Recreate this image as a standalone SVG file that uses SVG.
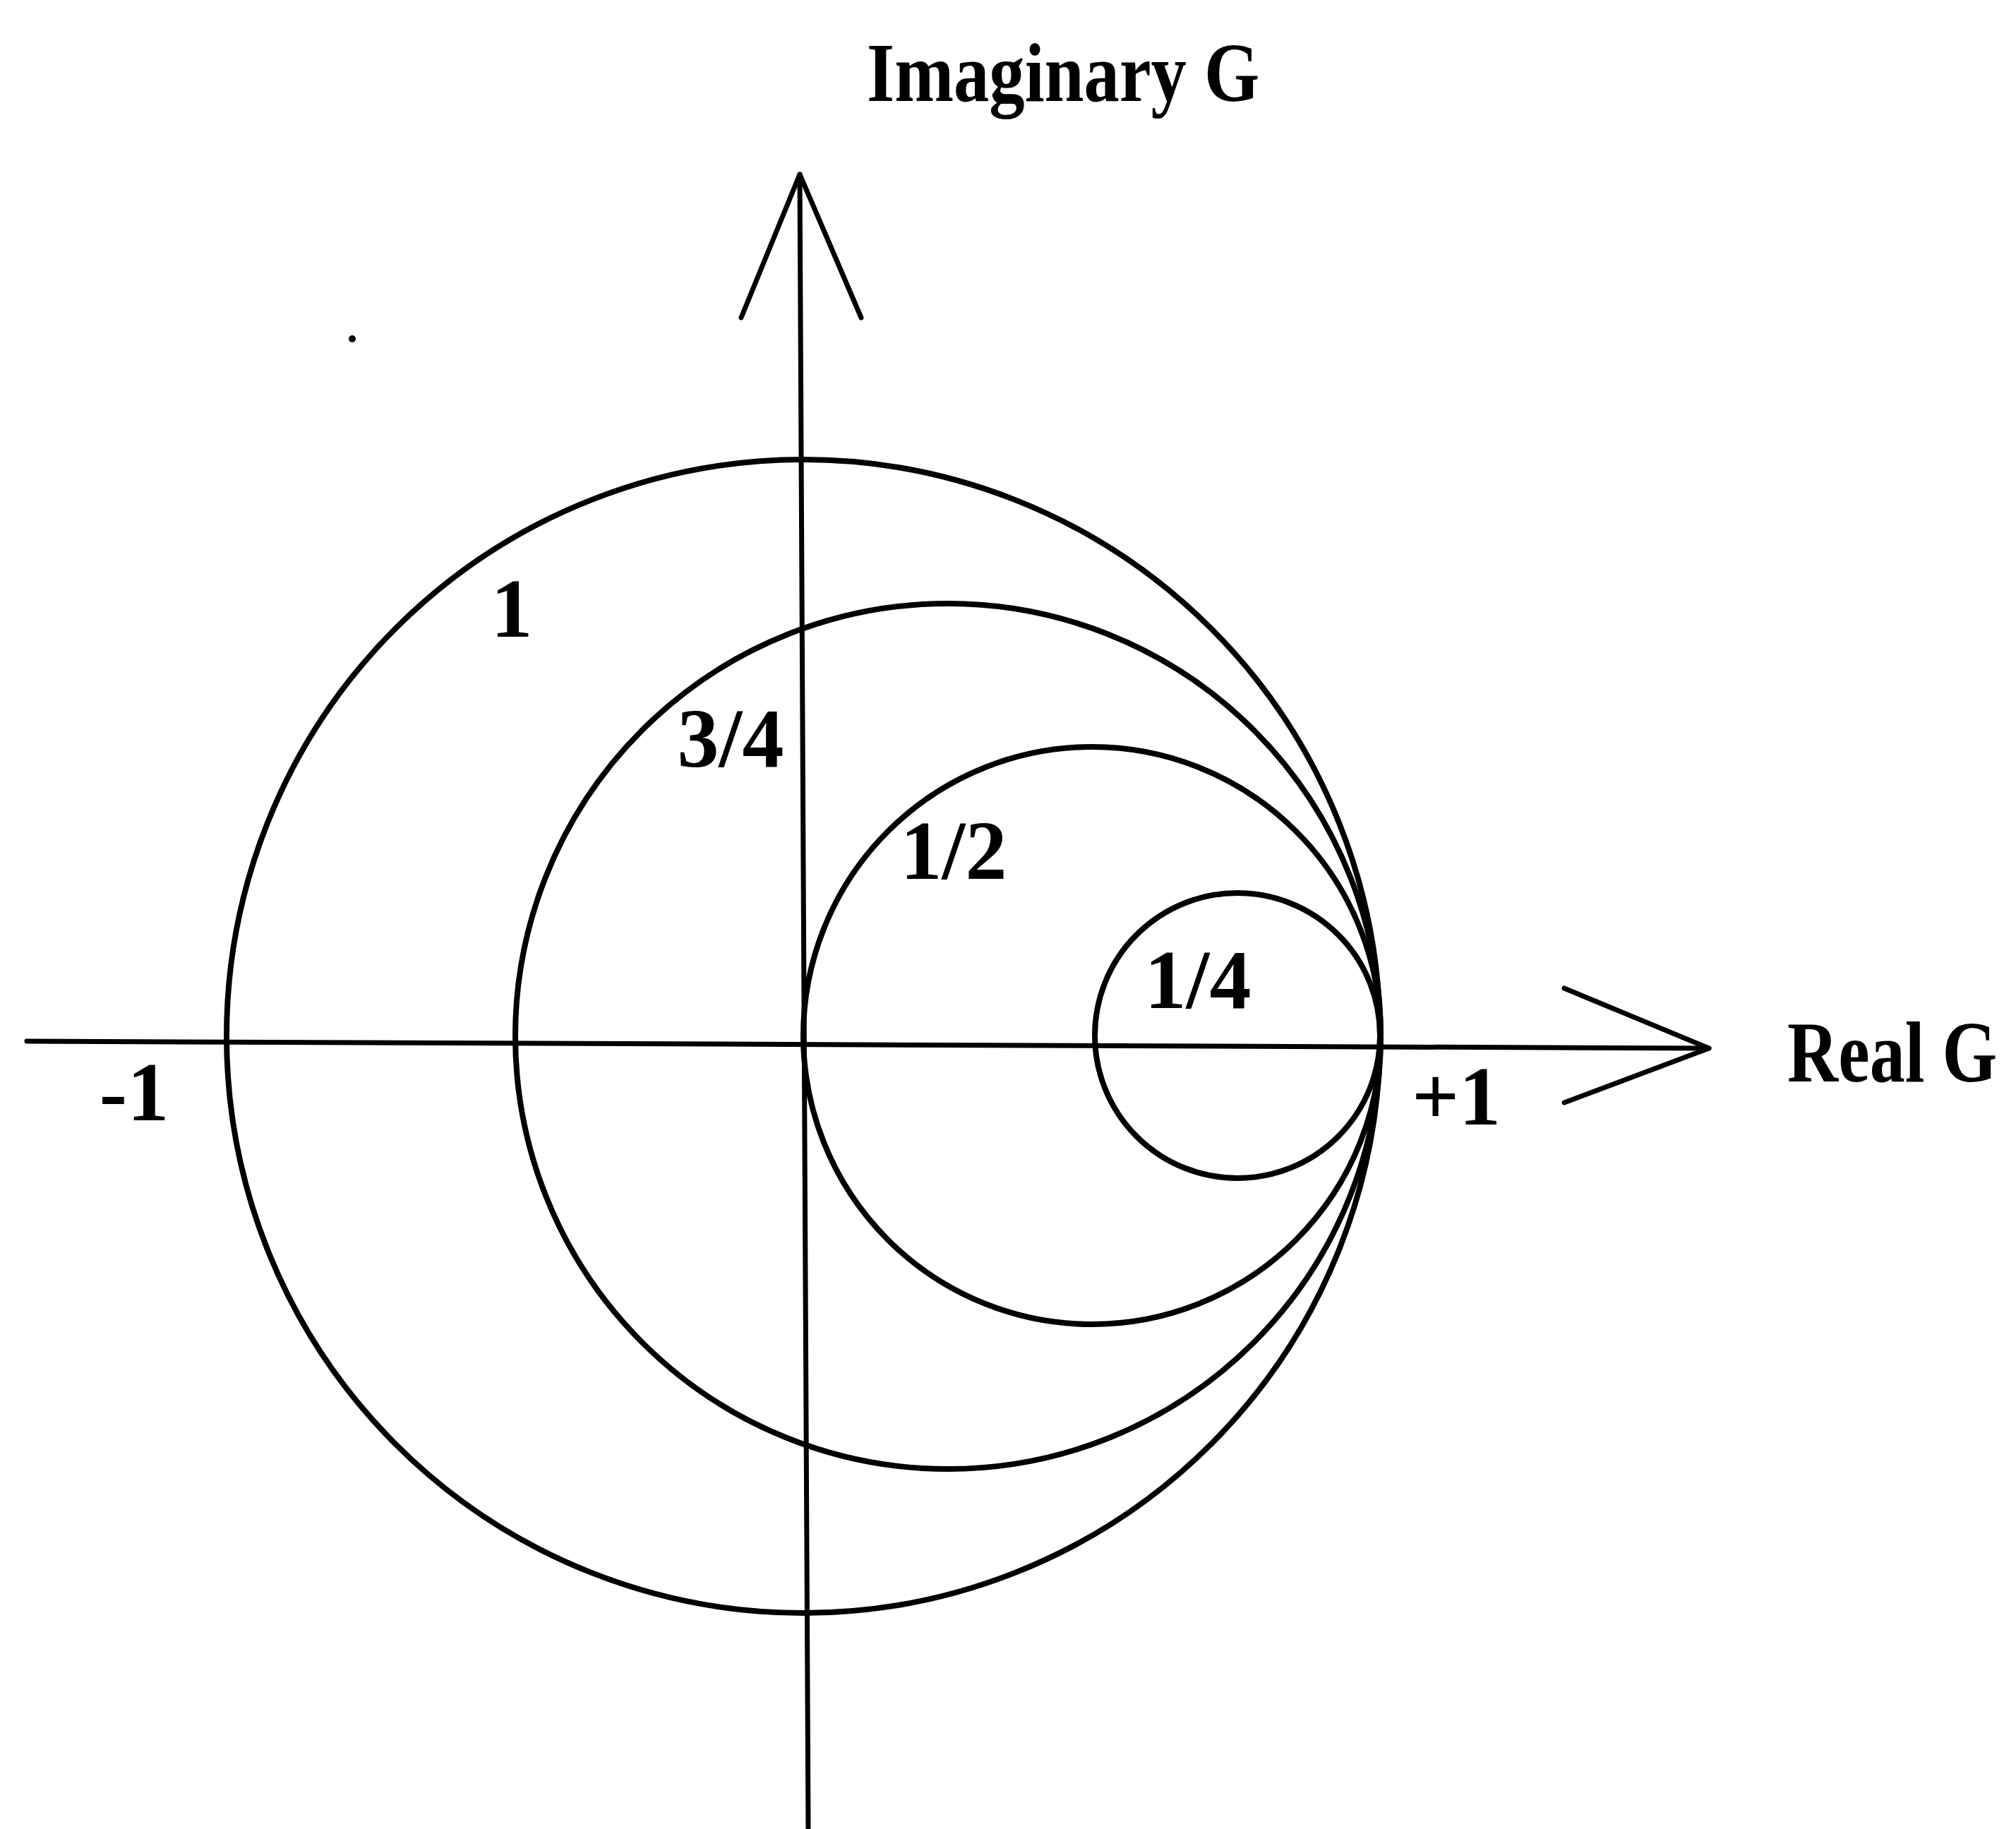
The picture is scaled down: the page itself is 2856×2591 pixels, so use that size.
<svg xmlns="http://www.w3.org/2000/svg" width="2856" height="2591" viewBox="0 0 2856 2591">
<style>
.ax{fill:none;stroke:#000;stroke-width:7;stroke-linecap:round;stroke-linejoin:round}
.c{fill:none;stroke:#000;stroke-width:8}
.t{font-family:"Liberation Serif","Times New Roman",serif;font-size:118px;font-weight:bold;fill:#000}
</style>
<rect width="2856" height="2591" fill="#fff"/>
<g id="axes">
<line class="ax" x1="38" y1="1475" x2="2421" y2="1485"/>
<polyline class="ax" points="2216,1400 2421,1485 2216,1562"/>
<line class="ax" x1="1133" y1="247" x2="1145" y2="2591"/>
<polyline class="ax" points="1050,450 1133,247 1220,450"/>
</g>
<g id="circle-1"><circle class="c" cx="1138" cy="1468" r="817"/></g>
<g id="circle-3-4"><circle class="c" cx="1343" cy="1468" r="613"/></g>
<g id="circle-1-2"><circle class="c" cx="1547" cy="1467" r="409"/></g>
<g id="circle-1-4"><circle class="c" cx="1753" cy="1467" r="202"/></g>
<g id="labels">
<text class="t" transform="translate(1228,143) scale(0.853,1)">Imaginary G</text>
<text class="t" transform="translate(2532,1532) scale(0.82,1)" style="font-size:122px">Real G</text>
<text class="t" x="190" y="1587" text-anchor="middle">-1</text>
<text class="t" x="2063" y="1593" text-anchor="middle">+1</text>
<text class="t" x="725" y="902" text-anchor="middle">1</text>
<text class="t" x="1035" y="1086" text-anchor="middle">3/4</text>
<text class="t" x="1351" y="1245" text-anchor="middle">1/2</text>
<text class="t" x="1697" y="1428" text-anchor="middle">1/4</text>
</g>
<circle cx="499" cy="480" r="5" fill="#000"/>
</svg>
